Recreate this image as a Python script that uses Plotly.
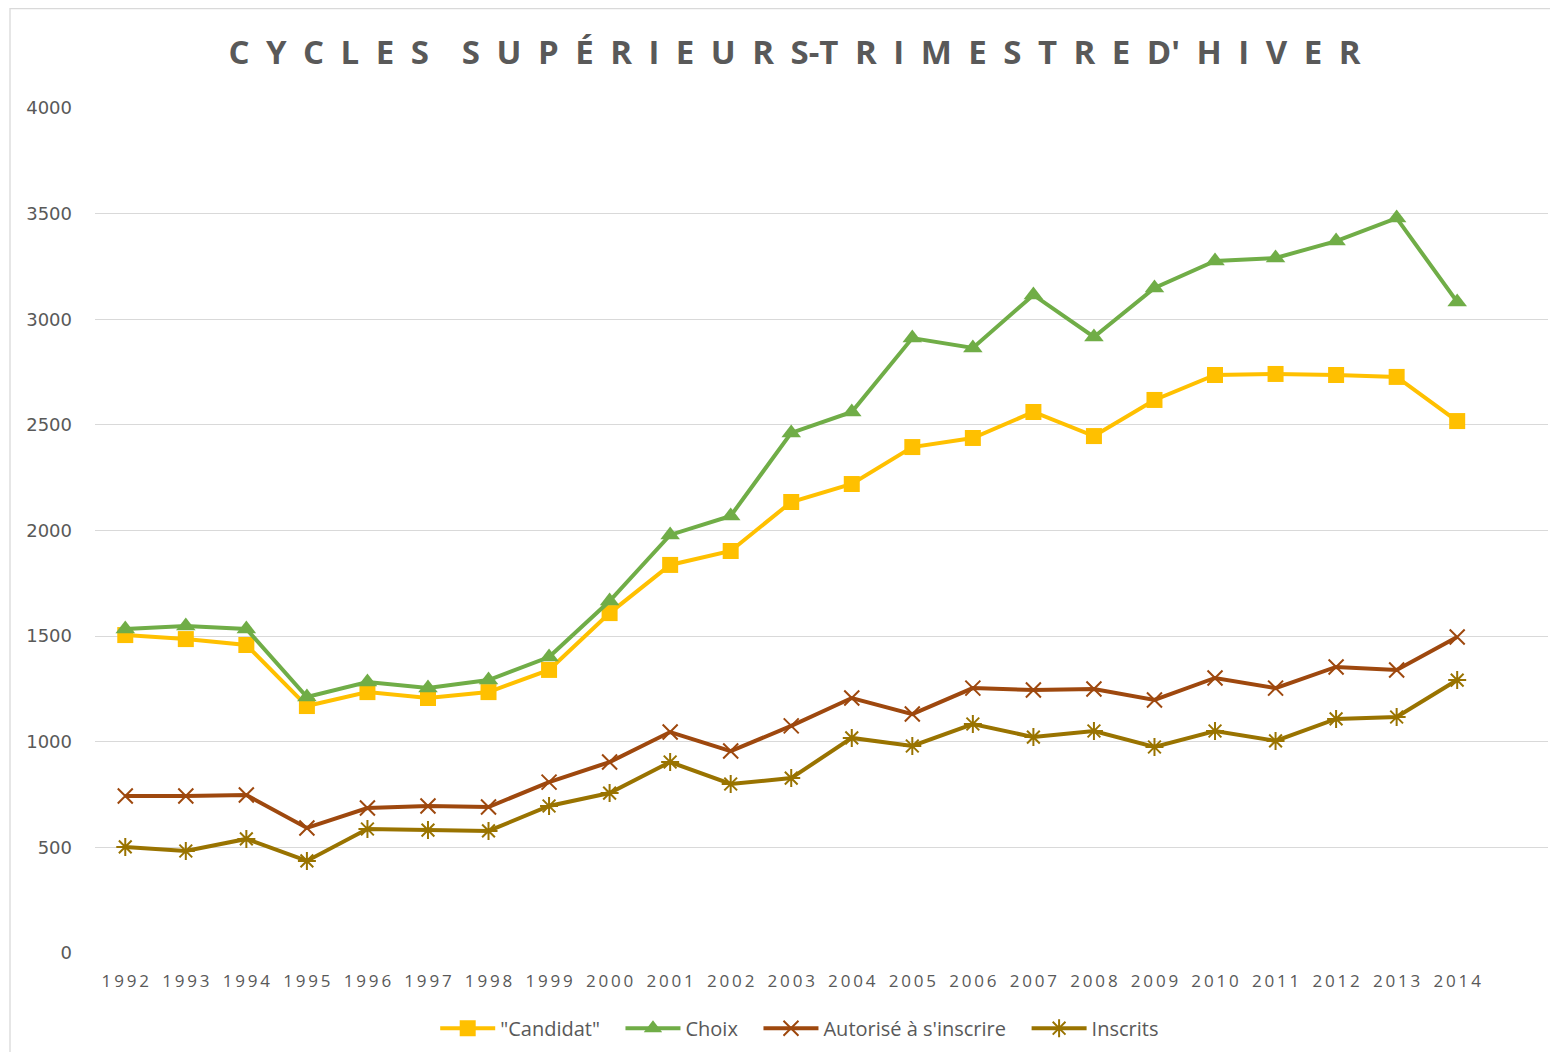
import plotly.graph_objects as go

years = list(range(1992, 2015))
candidat = [1505, 1486, 1458, 1169, 1235, 1207, 1235, 1340, 1609, 1837, 1903, 2135, 2220,
            2395, 2438, 2561, 2447, 2618, 2736, 2741, 2736, 2727, 2518]
choix = [1534, 1548, 1534, 1212, 1283, 1254, 1292, 1401, 1666, 1979, 2069, 2462, 2561,
         2911, 2864, 3115, 2916, 3148, 3276, 3290, 3370, 3479, 3082]
autorise = [743, 743, 748, 592, 686, 696, 691, 809, 904, 1046, 956, 1075, 1207,
            1131, 1254, 1245, 1250, 1198, 1302, 1254, 1354, 1340, 1496]
inscrits = [502, 483, 540, 436, 587, 582, 578, 696, 757, 904, 800, 828, 1018,
            980, 1084, 1022, 1051, 975, 1051, 1004, 1108, 1117, 1292]
y_ticks = [0, 500, 1000, 1500, 2000, 2500, 3000, 3500, 4000]

series = [
    ('"Candidat"', candidat, "#FFC000", "square", 16, None),
    ("Choix", choix, "#70AD47", "triangle-up", 17, None),
    ("Autorisé à s'inscrire", autorise, "#9E480E", "x-thin-open", 15, 2),
    ("Inscrits", inscrits, "#997300", "asterisk-open", 15, 2),
]

NB = "\u00a0"
fig = go.Figure()
for i, (name, vals, col, sym, sz, mlw) in enumerate(series):
    marker = dict(symbol=sym, size=sz, color=col)
    if mlw:
        marker["line"] = dict(color=col, width=mlw)
    label = name + (NB * 3 if i < len(series) - 1 else "")
    fig.add_trace(go.Scatter(x=years, y=vals, name=label, mode="lines+markers",
                             line=dict(color=col, width=4), marker=marker))

spaced = ["\u2009".join(str(y)) for y in years]
EN = "\u2002"
words = ["CYCLES", "SUPÉRIEURS-TRIMESTRED'HIVER"]
title_text = (EN * 2).join(EN.join(w) for w in words)
title_text = title_text.replace(EN + "-" + EN, "-").replace("D" + EN + "'", "D'")

fig.update_layout(
    width=1542, height=1044,
    margin=dict(l=87, r=2, t=100, b=99),
    paper_bgcolor="white", plot_bgcolor="white",
    font=dict(family="Open Sans", color="#595959"),
    title=dict(text="<b>" + title_text + "</b>", x=0.51, xanchor="center", y=0.957, yanchor="middle",
               font=dict(size=33, color="#595959", family="Open Sans")),
    xaxis=dict(range=[1991.5, 2015.5], tickmode="array", tickvals=years, ticktext=spaced,
               showgrid=False, zeroline=False, showline=False, ticks="", ticklabelstandoff=16,
               tickfont=dict(size=17, color="#595959", family="Open Sans")),
    yaxis=dict(range=[0, 4000], tickvals=y_ticks, showgrid=True, gridcolor="#D9D9D9", gridwidth=1.3,
               zeroline=False, showline=False, ticks="", ticklabelstandoff=22,
               tickfont=dict(size=18, color="#595959", family="DejaVu Sans")),
    legend=dict(orientation="h", x=0.485, xanchor="center", y=-0.089, yanchor="middle",
                font=dict(size=20, color="#595959", family="Open Sans"),
                itemwidth=55, tracegroupgap=0),
    shapes=[dict(type="rect", xref="paper", yref="paper", x0=-0.0585, x1=1.05, y0=-0.2, y1=1.1177,
                 line=dict(color="#D9D9D9", width=1.3), fillcolor="rgba(0,0,0,0)", layer="below")],
)

fig.write_html("out.html")
